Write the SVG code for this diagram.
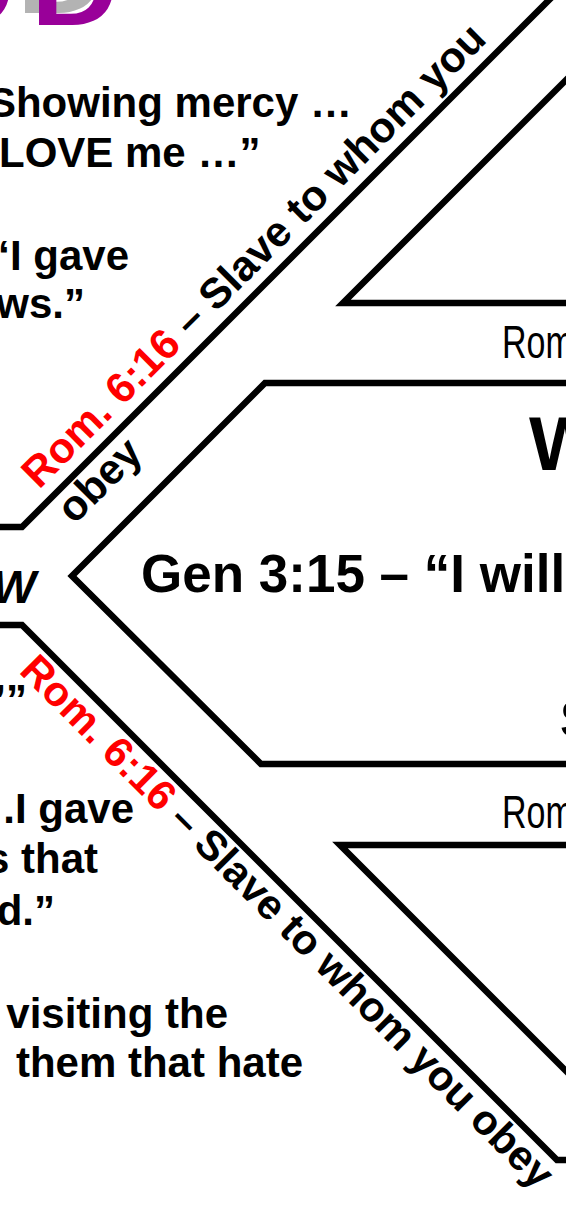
<svg xmlns="http://www.w3.org/2000/svg" width="566" height="1207" viewBox="0 0 566 1207">
<style>
.ln{fill:none;stroke:#000;stroke-width:6.5;stroke-linejoin:miter;stroke-miterlimit:10}
.t{font-family:"Liberation Sans",Arial,sans-serif;font-weight:bold;fill:#000}
.n{font-family:"Liberation Sans",Arial,sans-serif;font-weight:normal;fill:#000}
.red{fill:#ff0000}
.logo{font-family:"Liberation Sans",Arial,sans-serif;font-weight:bold;font-size:100px}
</style>
<rect width="566" height="1207" fill="#fff"/>
<g id="logo">
<text class="logo" fill="#b3b3b3" transform="translate(-93,13) scale(1.2,1)">O<tspan dx="14">D</tspan></text>
<text class="logo" fill="#990099" transform="translate(-79,25) scale(1.2,1)">O<tspan dx="14">D</tspan></text>
</g>
<g id="left-texts" class="t" font-size="42">
<text x="352" y="117" text-anchor="end">Showing mercy …</text>
<text x="-1" y="167">LOVE me …”</text>
<text x="129" y="270" text-anchor="end">“I gave</text>
<text x="85" y="318" text-anchor="end">ws.”</text>
<text x="27" y="714" text-anchor="end">’”</text>
<text x="134" y="823" text-anchor="end">.I gave</text>
<text x="98" y="873" text-anchor="end">s that</text>
<text x="55" y="925" text-anchor="end">d.”</text>
<text x="228" y="1028" text-anchor="end">visiting the</text>
<text x="303" y="1077" text-anchor="end">them that hate</text>
</g>
<g id="node-left">
<text class="t" x="36" y="603" font-size="46" font-style="italic" text-anchor="end">W</text>
</g>
<g id="node-top">
<path class="ln" d="M 575 303 H 343 L 575 71"/>
</g>
<text id="label-rom-top" class="n" font-size="46" transform="translate(502,358) scale(0.74,1)">Rom</text>
<g id="node-middle">
<path class="ln" d="M 575 383 H 265 L 72 576 L 261 764 H 575"/>
<text class="t" x="529" y="470" font-size="76">W</text>
<text class="t" x="141" y="592" font-size="53">Gen 3:15 – “I will</text>
<text class="t" x="560" y="737" font-size="52">S</text>
</g>
<text id="label-rom-bottom" class="n" font-size="46" transform="translate(502,828) scale(0.74,1)">Rom</text>
<g id="node-bottom">
<path class="ln" d="M 575 845 H 340 L 575 1080"/>
</g>
<g id="connectors">
<path class="ln" d="M -5 527 H 22 L 560 -11"/>
<path class="ln" d="M -5 625 H 22 L 557 1160 H 575"/>
<text class="t" font-size="42.5" transform="translate(39,490) rotate(-45)"><tspan class="red">Rom. 6:16</tspan> – Slave to whom you<tspan x="0" dy="50">obey</tspan></text>
<text class="t" font-size="41.8" transform="translate(18,672) rotate(45)"><tspan class="red">Rom. 6:16</tspan> – Slave to whom you obey</text>
</g>
</svg>
